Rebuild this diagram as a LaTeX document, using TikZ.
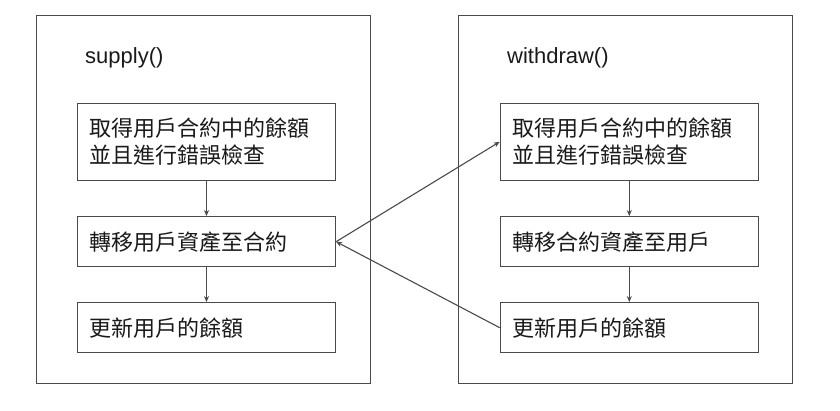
\documentclass[tikz,border=0pt]{standalone}
\usepackage{fontspec}
\setmainfont{Liberation Sans}
\newfontfamily\cjk{Noto Sans CJK TC}
\usetikzlibrary{arrows.meta}
\definecolor{edge}{HTML}{4A4A4A}
\definecolor{ink}{HTML}{1A1A1A}
\begin{document}
\begin{tikzpicture}[x=1pt,y=-1pt,
  frame/.style={draw=edge, line width=1.2pt, rectangle, minimum width=334pt, minimum height=368pt, inner sep=0pt},
  stepbox/.style={draw=edge, line width=1.2pt, rectangle, minimum height=50pt,
    text width=234pt, inner xsep=12pt, inner ysep=0pt, align=left, text=ink,
    font=\cjk\fontsize{22}{27}\selectfont},
  title/.style={anchor=west, inner sep=0pt, text=ink, font=\fontsize{22}{26}\selectfont},
  flow/.style={draw=edge, line width=1.1pt, -{Stealth[length=6pt,width=5pt]}}]
  \fill[white] (0,0) rectangle (840,411);
  \useasboundingbox (0,0) rectangle (840,411);

  % two function frames
  \node[frame] (fl) at (203.7,199.2) {};
  \node[frame] (fr) at (625.8,199.2) {};
  \node[title] (tl) at (85,58) {supply()};
  \node[title] (tr) at (507,58) {withdraw()};

  % steps of supply()
  \node[stepbox, minimum height=77pt] (l1) at (206.5,141.8) {取得用戶合約中的餘額\\並且進行錯誤檢查};
  \node[stepbox] (l2) at (206.5,241.7) {轉移用戶資產至合約};
  \node[stepbox] (l3) at (206.5,327.7) {更新用戶的餘額};

  % steps of withdraw()
  \node[stepbox, minimum height=77pt] (r1) at (629.3,141.8) {取得用戶合約中的餘額\\並且進行錯誤檢查};
  \node[stepbox] (r2) at (629.3,241.7) {轉移合約資產至用戶};
  \node[stepbox] (r3) at (629.3,327.7) {更新用戶的餘額};

  % flow inside each frame
  \draw[flow] (l1) -- (l2);
  \draw[flow] (l2) -- (l3);
  \draw[flow] (r1) -- (r2);
  \draw[flow] (r2) -- (r3);

  % links between the two functions
  \draw[flow] (l2.east) -- (r1.west);
  \draw[flow] (r3.west) -- (l2.east);
\end{tikzpicture}
\end{document}
